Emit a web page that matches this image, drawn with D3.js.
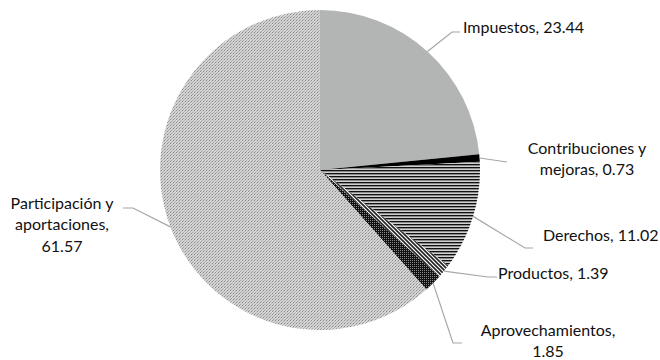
<!DOCTYPE html>
<html><head><meta charset="utf-8">
<script src="https://cdn.jsdelivr.net/npm/d3@7"></script>
<style>body{margin:0;background:#fff}svg{display:block}</style>
</head><body>
<script>
const categories = ["Impuestos","Contribuciones y mejoras","Derechos","Productos","Aprovechamientos","Participación y aportaciones"];
const values = [23.44, 0.73, 11.02, 1.39, 1.85, 61.57];
const labelLines = [["Impuestos, 23.44"],["Contribuciones y","mejoras, 0.73"],["Derechos, 11.02"],["Productos, 1.39"],["Aprovechamientos,","1.85"],["Participación y","aportaciones,","61.57"]];

const W=660,H=360,cx=320,cy=170,R=160;
// label layout: elbow point, end point, text anchor point, anchor
const layout = [
  {elbow:[452,32], end:[460,32], tx:463, ty:27, anchor:"start"},
  {elbow:[507,162], end:[507,162], tx:587, ty:148, anchor:"middle"},
  {elbow:[525,248], end:[533,248], tx:543, ty:235, anchor:"start"},
  {elbow:[488,277], end:[497,277], tx:498, ty:273, anchor:"start"},
  {elbow:[453,343], end:[462,343], tx:548, ty:330, anchor:"middle"},
  {elbow:[133,208], end:[123,208], tx:62, ty:203, anchor:"middle"}
];
const svg=d3.select("body").append("svg").attr("width",W).attr("height",H);
const defs=svg.append("defs");
function pat(id,w,h){return defs.append("pattern").attr("id",id).attr("patternUnits","userSpaceOnUse").attr("width",w).attr("height",h);}
let p=pat("pDer",1,3);
p.append("rect").attr("width",1).attr("height",3).attr("fill","#d0d0d0");
p.append("rect").attr("y",0).attr("width",1).attr("height",1).attr("fill","#111");
p.append("rect").attr("y",1).attr("width",1).attr("height",1).attr("fill","#8a8a8a");
p=pat("pProd",4,4);
p.append("rect").attr("width",4).attr("height",4).attr("fill","#fff");
p.append("path").attr("d","M-1,-1 L5,5 M-1,3 L1,5 M3,-1 L5,1").attr("stroke","#222").attr("stroke-width",1.6);
p=pat("pApr",2,2);
p.append("rect").attr("width",2).attr("height",2).attr("fill","#111");
p.append("rect").attr("width",1).attr("height",1).attr("fill","#8a8a8a");
p=pat("pPart",3,3);
p.append("rect").attr("width",3).attr("height",3).attr("fill","#d4d4d4");
p.append("rect").attr("x",0).attr("y",0).attr("width",1).attr("height",1).attr("fill","#888");
p.append("rect").attr("x",1).attr("y",2).attr("width",1).attr("height",1).attr("fill","#a4a4a4");
p.append("rect").attr("x",2).attr("y",1).attr("width",1).attr("height",1).attr("fill","#b4b4b4");
const fills=["#b3b5b5","#000000","url(#pDer)","url(#pProd)","url(#pApr)","url(#pPart)"];

const data=categories.map((c,i)=>({c,v:values[i],i}));
const pie=d3.pie().value(d=>d.v).sort(null);
const arc=d3.arc().innerRadius(0).outerRadius(R);
const arcs=pie(data);
const g=svg.append("g").attr("transform",`translate(${cx},${cy})`);
g.selectAll("path.s").data(arcs).join("path").attr("class","s").attr("d",arc).attr("fill",d=>fills[d.data.i]);

arcs.forEach((a,i)=>{
  const m=(a.startAngle+a.endAngle)/2;
  const sx=cx+R*Math.sin(m), sy=cy-R*Math.cos(m);
  const L=layout[i];
  svg.append("polyline").attr("points",[[sx,sy],L.elbow,L.end].map(p=>p.join(",")).join(" "))
    .attr("fill","none").attr("stroke","#a6a6a6").attr("stroke-width",1.2);
  const t=svg.append("text").attr("text-anchor",L.anchor).attr("font-family","Lato, 'Open Sans', sans-serif")
    .attr("font-size",16).attr("fill","#111");
  labelLines[i].forEach((ln,k)=>{
    t.append("tspan").attr("x",L.tx).attr("y",L.ty+k*21.5).attr("dy","0.35em").text(ln);
  });
});
</script>
</body></html>
